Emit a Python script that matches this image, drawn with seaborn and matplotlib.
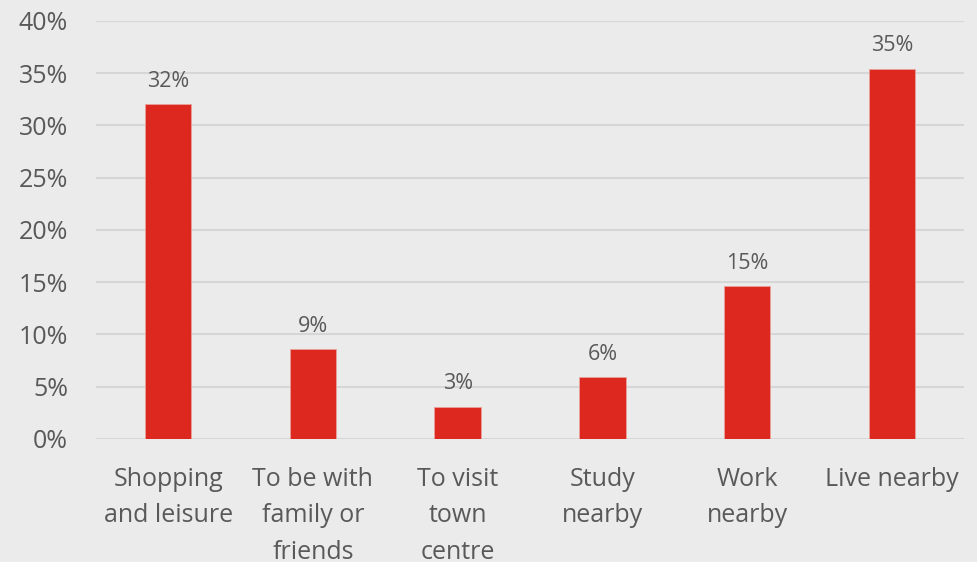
import matplotlib
matplotlib.use("Agg")
import pandas as pd
import seaborn as sns
import matplotlib.pyplot as plt

# values (percent)
categories = ["Shopping\nand leisure", "To be with\nfamily or\nfriends", "To visit\ntown\ncentre",
              "Study\nnearby", "Work\nnearby", "Live nearby"]
shares = [32.0, 8.6, 3.1, 5.9, 14.6, 35.4]

df = pd.DataFrame({"reason": categories, "share": shares})

sns.set_theme(style="whitegrid")
plt.rcParams["font.family"] = ["Open Sans", "DejaVu Sans"]

bg = "#ebebeb"
text_col = "#595959"

fig = plt.figure(figsize=(9.77, 5.62), dpi=100, facecolor=bg)
ax = fig.add_axes([0.098, 0.219, 0.889, 0.744])
ax.set_facecolor(bg)

sns.barplot(data=df, x="reason", y="share", color="#dc281e", width=0.32,
            saturation=1, edgecolor="#e8a09a", linewidth=0.6, ax=ax)

ax.set_ylim(0, 40)
ax.set_xlim(-0.5, 5.5)
ax.set_yticks(range(0, 41, 5))
ax.yaxis.set_major_formatter(plt.FuncFormatter('{:.0f}%'.format))
ax.grid(axis="y", color="#d6d6d6", linewidth=1.5)
ax.grid(axis="x", visible=False)
ax.set_axisbelow(True)
for s in ax.spines.values():
    s.set_visible(False)
ax.set_xlabel("")
ax.set_ylabel("")
ax.tick_params(axis="both", length=0, labelcolor=text_col, labelsize=18)
ax.tick_params(axis="y", pad=20)
ax.tick_params(axis="x", pad=20)
for lbl in ax.get_xticklabels():
    lbl.set_linespacing(1.62)
    lbl.set_verticalalignment("top")

for i, v in enumerate(shares):
    ax.annotate(f"{v:.0f}%", (i, v), xytext=(0, 9), textcoords="offset points",
                ha="center", va="bottom", fontsize=15.5, color=text_col)

fig.savefig("out.png", dpi=100, facecolor=bg)
